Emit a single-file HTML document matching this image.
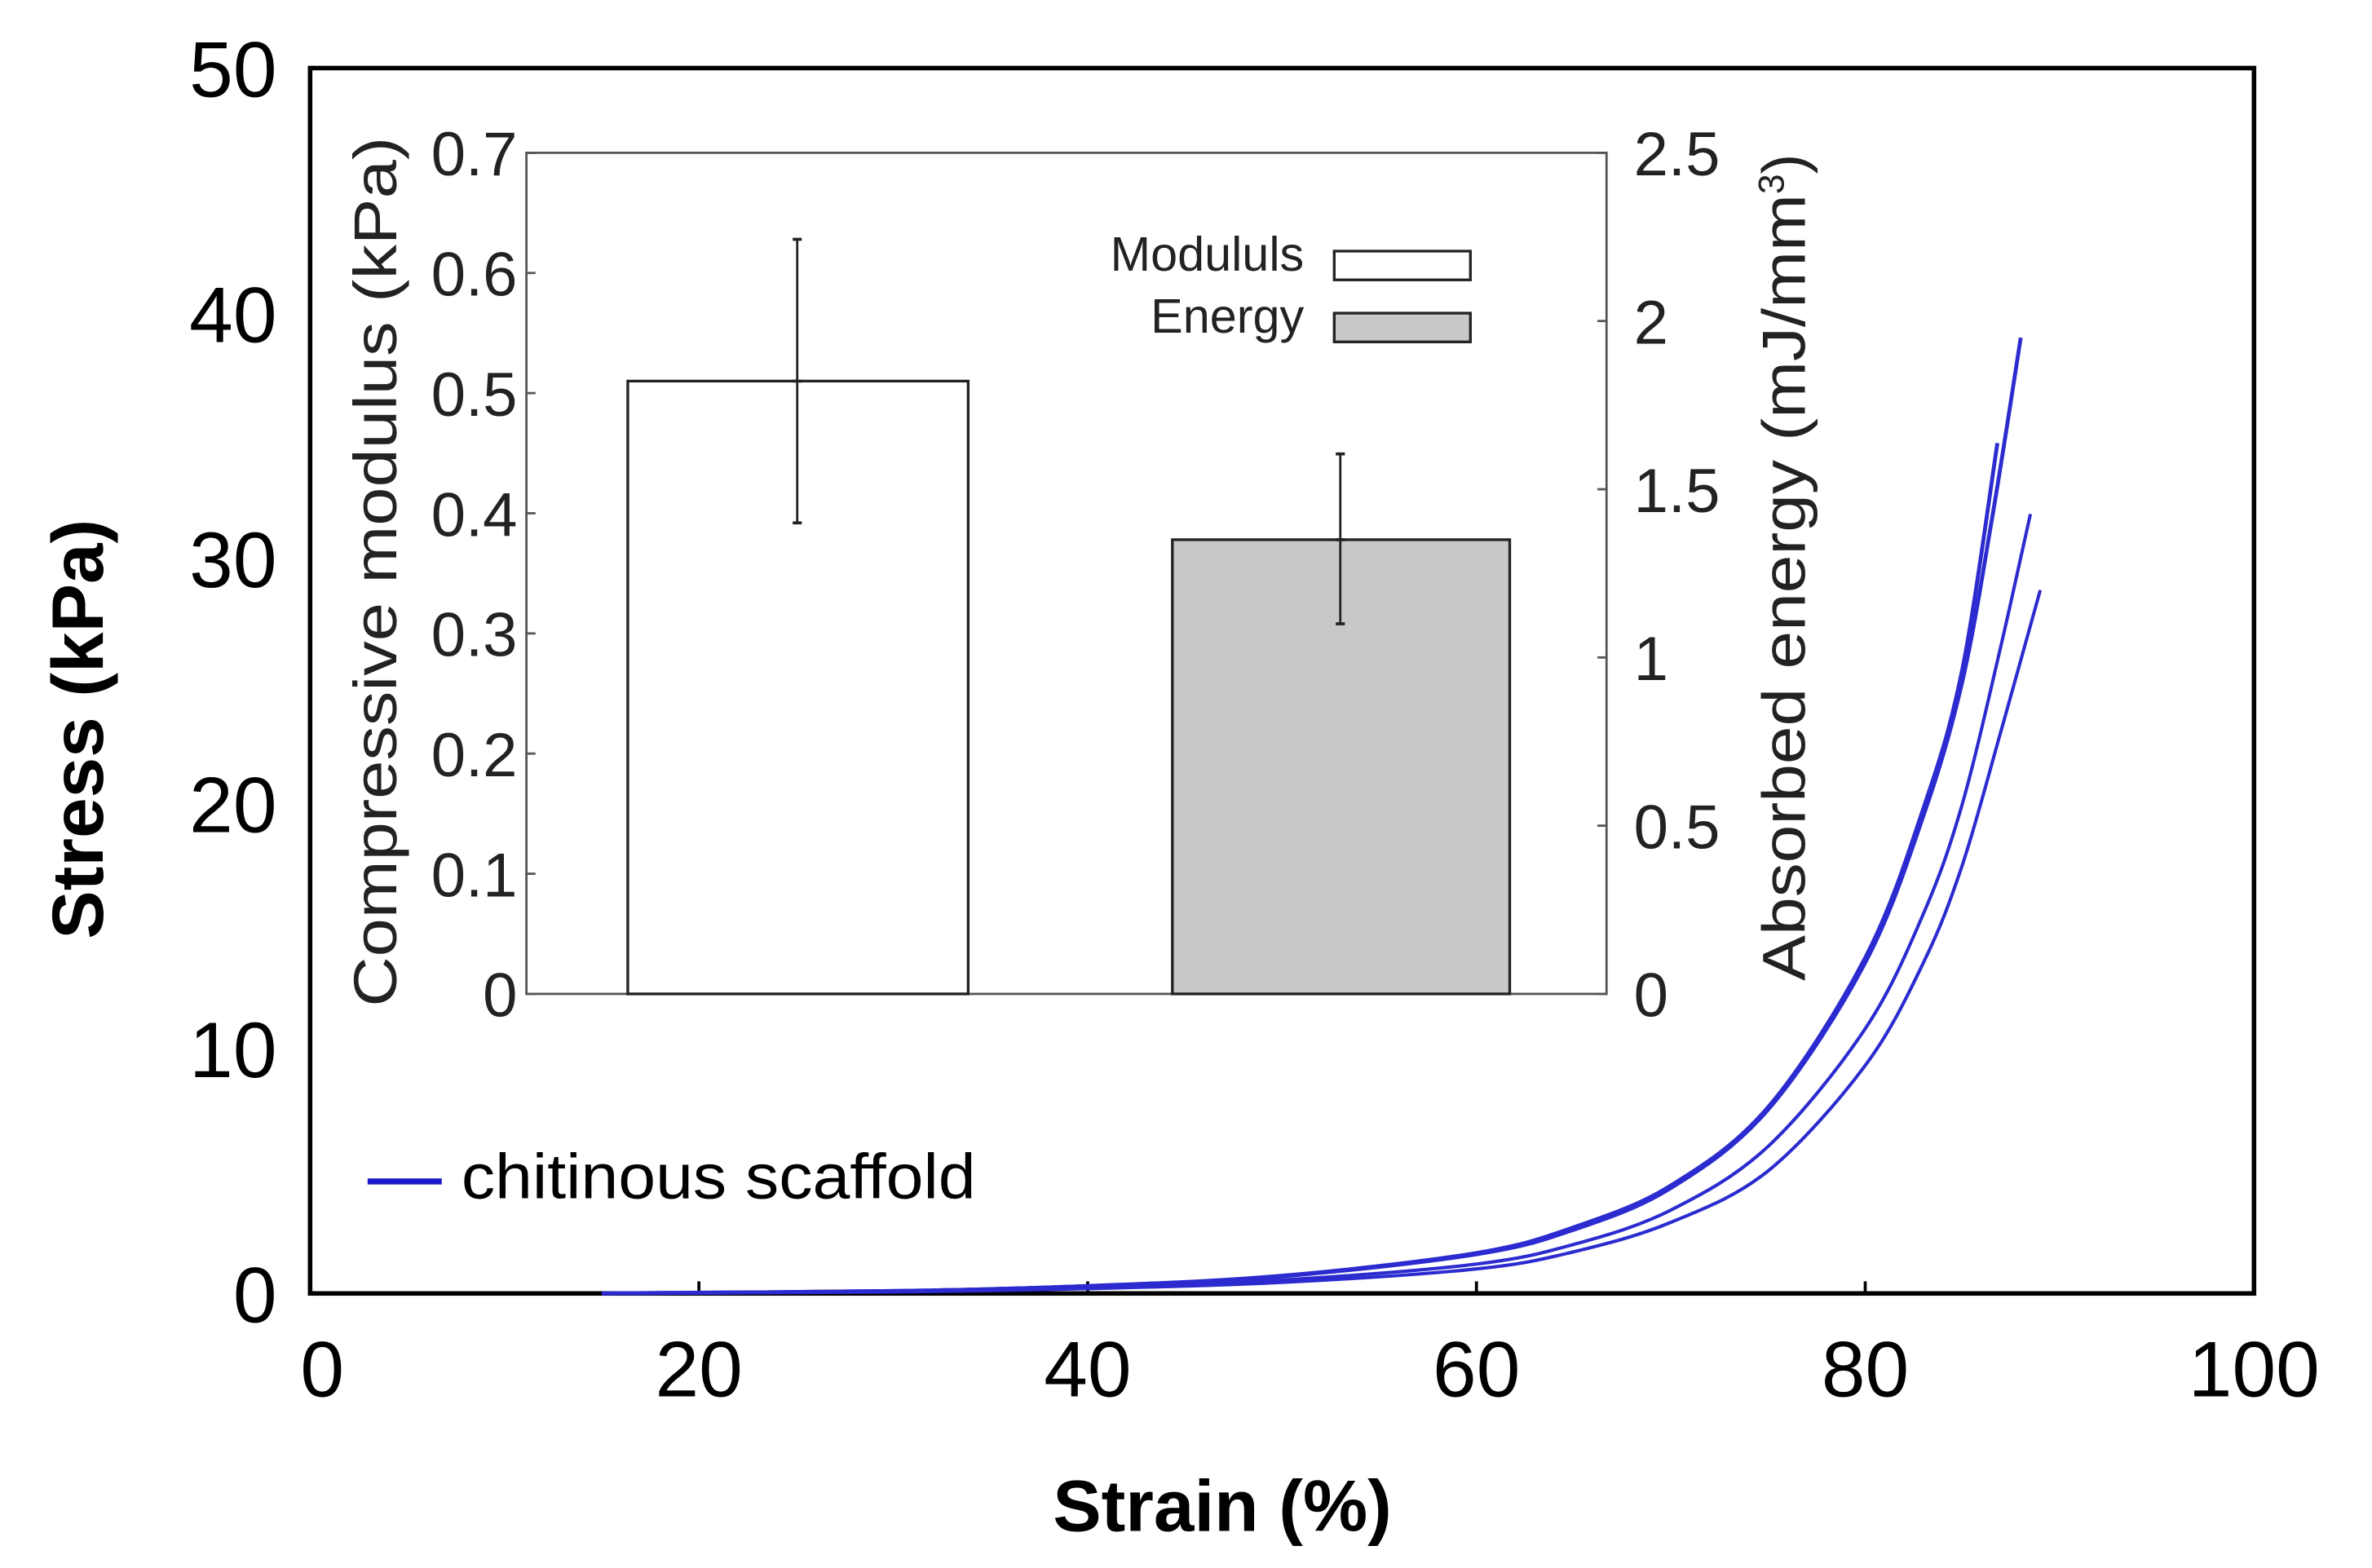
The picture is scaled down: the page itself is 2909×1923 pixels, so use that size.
<!DOCTYPE html>
<html><head><meta charset="utf-8"><style>
html,body{margin:0;padding:0;background:#fff}
svg{display:block}
text{font-family:"Liberation Sans",sans-serif}
</style></head><body>
<svg id="chart" width="2909" height="1923" viewBox="0 0 1568 1036.5" preserveAspectRatio="none" xmlns="http://www.w3.org/2000/svg">
<rect width="1568" height="1036.5" fill="#fff"/>
<g id="main"></g>
<g id="inset"></g>
</svg>
<script>
// ---- main chart data ----
const xTicks = [0,20,40,60,80,100];
const yTicks = [0,10,20,30,40,50];
const strainA = [15,30,40,50,60,65,70,75,80,83,85,86.5,88];
const stressA = [0,0.1,0.3,0.7,1.6,2.6,4.3,7.5,13.5,19.5,25,31.5,39];
const strainA2 = [15,30,40,50,60,65,70,75,80,83,85,86.8];
const stressA2 = [0,0.1,0.3,0.72,1.65,2.7,4.4,7.6,13.7,19.8,25.5,34.7];
const strainB = [15,30,40,50,60,65,70,75,80,83,85,87,88.5];
const stressB = [0,0.08,0.25,0.55,1.2,2.0,3.4,6.0,10.8,15.5,20,26.5,31.8];
const strainC = [15,30,40,50,60,65,70,75,80,83,85,87,89];
const stressC = [0,0.06,0.2,0.45,1.0,1.7,2.9,5.0,9.3,13.5,17.5,23,28.7];
// ---- inset data ----
const insetCats = ["Modululs","Energy"];
const modulusVal = 0.51, modulusLo = 0.392, modulusHi = 0.628;
const energyVal = 1.35, energyLo = 1.10, energyHi = 1.605;
const leftTicks = [0,0.1,0.2,0.3,0.4,0.5,0.6,0.7];
const rightTicks = [0,0.5,1,1.5,2,2.5];

const NS="http://www.w3.org/2000/svg";
function mk(parent,tag,attrs,txt){const e=document.createElementNS(NS,tag);for(const k in attrs)e.setAttribute(k,attrs[k]);if(txt!==undefined)e.textContent=txt;parent.appendChild(e);return e;}
const main=document.getElementById('main'), inset=document.getElementById('inset');
const X0=205,X1=1490,Y0=855,Y1=45;
const sx=v=>X0+(X1-X0)*v/100, sy=v=>Y0-(Y0-Y1)*v/50;

let frame=mk(main,'rect',{x:X0,y:Y1,width:X1-X0,height:Y0-Y1,fill:'none',stroke:'#000','stroke-width':3});


xTicks.forEach(t=>{
  let tk=mk(main,'line',{x1:sx(t),x2:sx(t),y1:Y0,y2:Y0-8,stroke:'#000','stroke-width':2});
  
  
  let l=mk(main,'text',{x:sx(t)+(t===0?8:0),y:923,'font-size':52,'text-anchor':'middle'},t);
  
  
});
yTicks.forEach(t=>{
  let l=mk(main,'text',{x:183,y:sy(t)+19,'font-size':52,'text-anchor':'end'},t);
  
  
});
let xt=mk(main,'text',{x:808,y:1012,'font-size':48,'font-weight':'bold','text-anchor':'middle'},'Strain (%)');


let yt=mk(main,'text',{x:0,y:0,'font-size':48,'font-weight':'bold','text-anchor':'middle',transform:'translate(68,482) rotate(-90)'},'Stress (kPa)');



function curve(xs,ys,name,w){
  const P=xs.map((x,i)=>[sx(x),sy(ys[i])]);
  let d='M'+P[0][0].toFixed(1)+','+P[0][1].toFixed(1);
  for(let i=0;i<P.length-1;i++){
    const p0=P[Math.max(0,i-1)],p1=P[i],p2=P[i+1],p3=P[Math.min(P.length-1,i+2)];
    const c1=[p1[0]+(p2[0]-p0[0])/6,p1[1]+(p2[1]-p0[1])/6];
    const c2=[p2[0]-(p3[0]-p1[0])/6,p2[1]-(p3[1]-p1[1])/6];
    d+='C'+c1.map(v=>v.toFixed(1)).join(',')+' '+c2.map(v=>v.toFixed(1)).join(',')+' '+p2[0].toFixed(1)+','+p2[1].toFixed(1);
  }
  let p=mk(main,'path',{d:d,fill:'none',stroke:'#2b2bd0','stroke-width':w,'stroke-linejoin':'round'});
  
  
}
curve(strainA,stressA,'curve-sample-1',2.6);
curve(strainA2,stressA2,'curve-sample-2',2.6);
curve(strainB,stressB,'curve-sample-3',2.2);
curve(strainC,stressC,'curve-sample-4',2.2);

let ll=mk(main,'line',{x1:243,x2:292,y1:781,y2:781,stroke:'#1a1acc','stroke-width':4});


let lt=mk(main,'text',{x:305,y:792,'font-size':42,textLength:340,lengthAdjust:'spacingAndGlyphs'},'chitinous scaffold');



// ---- inset ----
const IX0=348,IX1=1062,IY0=657,IY1=101;
const syL=v=>IY0-(IY0-IY1)*v/0.7, syR=v=>IY0-(IY0-IY1)*v/2.5;
let ifr=mk(inset,'rect',{x:IX0,y:IY1,width:IX1-IX0,height:IY0-IY1,fill:'#fff',stroke:'#555','stroke-width':1.5});


leftTicks.forEach(t=>{
  let tk=mk(inset,'line',{x1:IX0,x2:IX0+6,y1:syL(t),y2:syL(t),stroke:'#555','stroke-width':1.5});
  
  
  let l=mk(inset,'text',{x:342,y:syL(t)+15,'font-size':41,'text-anchor':'end',fill:'#222'},t);
  
  
});
rightTicks.forEach(t=>{
  let tk=mk(inset,'line',{x1:IX1,x2:IX1-6,y1:syR(t),y2:syR(t),stroke:'#555','stroke-width':1.5});
  
  
  let l=mk(inset,'text',{x:1080,y:syR(t)+15,'font-size':41,fill:'#222'},t);
  
  
});
let b1=mk(inset,'rect',{x:415,y:syL(modulusVal),width:225,height:IY0-syL(modulusVal),fill:'#fff',stroke:'#222','stroke-width':1.8});


let b2=mk(inset,'rect',{x:775,y:syR(energyVal),width:223,height:IY0-syR(energyVal),fill:'#c8c8c8',stroke:'#222','stroke-width':1.8});


function err(x,lo,hi,mid,name){
  let g=mk(inset,'g',{});
  
  
  mk(g,'line',{x1:x,x2:x,y1:hi,y2:lo,stroke:'#222','stroke-width':1.5});
  [hi,lo,mid].forEach(y=>mk(g,'line',{x1:x-3,x2:x+3,y1:y,y2:y,stroke:'#222','stroke-width':2}));
}
err(527,syL(modulusLo),syL(modulusHi),syL(modulusVal),'error-bar-modulus');
err(886,syR(energyLo),syR(energyHi),syR(energyVal),'error-bar-energy');
let ilab=mk(inset,'text',{x:0,y:0,'font-size':40,'text-anchor':'middle',fill:'#222',textLength:575,lengthAdjust:'spacingAndGlyphs',transform:'translate(262,378) rotate(-90)'},'Compressive modulus  (kPa)');


let rlab=mk(inset,'text',{x:0,y:0,'font-size':40,'text-anchor':'middle',fill:'#222',transform:'translate(1193,375) rotate(-90)'},'');


mk(rlab,'tspan',{textLength:520,lengthAdjust:'spacingAndGlyphs'},'Absorbed energy (mJ/mm');
mk(rlab,'tspan',{dy:-14,'font-size':24},'3');
mk(rlab,'tspan',{dy:14},')');
// legend
const legY=[176,217], legFill=['#fff','#c8c8c8'];
insetCats.forEach((c,i)=>{
  let t=mk(inset,'text',{x:862,y:legY[i]+3,'font-size':32,'text-anchor':'end',fill:'#222'},c);
  
  
  let r=mk(inset,'rect',{x:882,y:legY[i]-10,width:90,height:19,fill:legFill[i],stroke:'#222','stroke-width':1.8});
  
  
});
</script>
</body></html>
